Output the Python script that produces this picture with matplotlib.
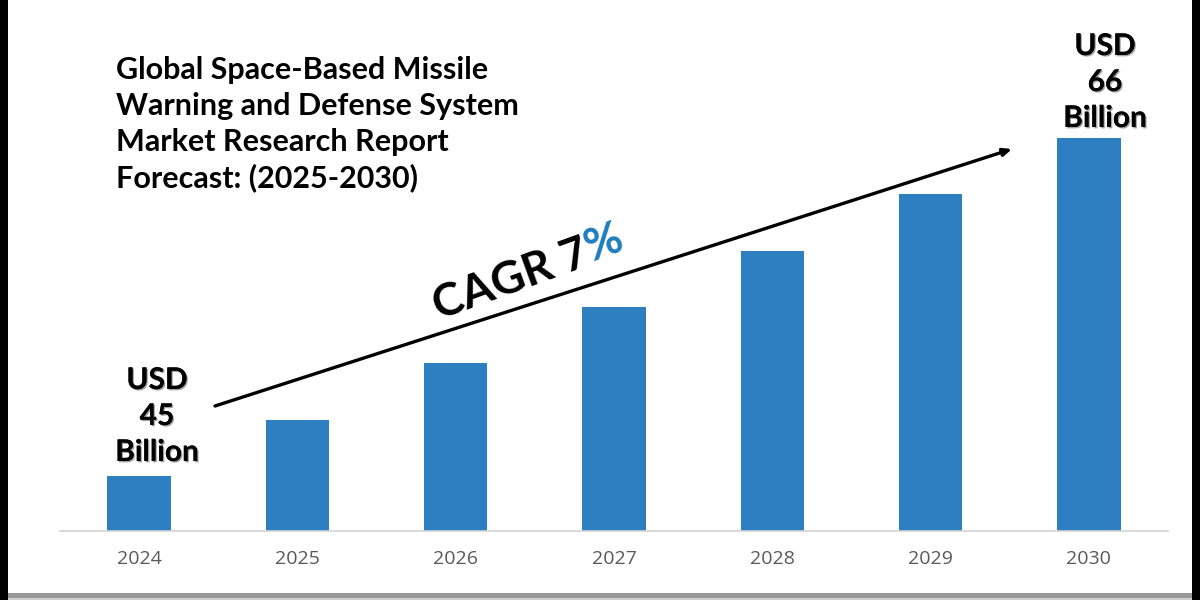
import matplotlib
matplotlib.use("Agg")
import matplotlib.patheffects as pe
import matplotlib.pyplot as plt
from matplotlib.patches import FancyArrowPatch, Rectangle

W, H = 1200, 600
years = ["2024", "2025", "2026", "2027", "2028", "2029", "2030"]
bar_heights = [55, 111, 168, 224, 280, 337, 393]  # no y axis in the source, so relative units
title_lines = ["Global Space-Based Missile", "Warning and Defense System",
               "Market Research Report", "Forecast: (2025-2030)"]
start_label = ["USD", "45", "Billion"]
end_label = ["USD", "66", "Billion"]

BLUE = "#2e7fc1"
FONT = "Lato"


def fx(px):
    return px / W


def fy(py):
    return 1 - py / H


shadow = [pe.withSimplePatchShadow(offset=(1.0, -1.0), shadow_rgbFace="#666666", alpha=0.6),
          pe.Normal()]

fig = plt.figure(figsize=(W / 100, H / 100), dpi=100, facecolor="white")
ax = fig.add_axes([fx(60), 1 - 531 / H, fx(1168 - 60), 531 / H])
ax.set_facecolor("none")
ax.bar(range(len(years)), bar_heights, width=0.4, color=BLUE)
ax.set_xlim(-0.5, 6.5)
ax.set_ylim(0, 531)
ax.set_xticks(range(len(years)), years)
ax.tick_params(axis="x", length=0, pad=14, labelsize=14, labelcolor="#595959")
ax.set_yticks([])
for lab in ax.get_xticklabels():
    lab.set_fontfamily("Open Sans")
for side in ["top", "left", "right"]:
    ax.spines[side].set_visible(False)
ax.spines["bottom"].set_color("#d4d4d4")
ax.spines["bottom"].set_linewidth(1.2)

for i, line in enumerate(title_lines):
    fig.text(fx(116), fy(70 + i * 36), line, family=FONT, weight="bold", fontsize=22,
             color="black", ha="left", va="center")

for i, line in enumerate(start_label):
    fig.text(fx(157), fy(380 + i * 36), line, family=FONT, weight="bold", fontsize=21.5,
             ha="center", va="center", path_effects=shadow)
for i, line in enumerate(end_label):
    fig.text(fx(1105), fy(46 + i * 36), line, family=FONT, weight="bold", fontsize=21.5,
             ha="center", va="center", path_effects=shadow)

# trend arrow
fig.add_artist(FancyArrowPatch(
    (fx(215), fy(406)), (fx(1012), fy(149)), transform=fig.transFigure,
    arrowstyle="-|>,head_length=5,head_width=2.2", color="black", lw=2.4,
    shrinkA=0, shrinkB=0))

fig.text(fx(511), fy(280), "CAGR 7", family=FONT, weight="bold", fontsize=33,
         rotation=20, rotation_mode="anchor", ha="center", va="center")
fig.text(fx(603), fy(243), "%", family=FONT, weight="bold", fontsize=33, color="#1f7cc0",
         rotation=20, rotation_mode="anchor", ha="center", va="center")

# picture frame: black side strips and the grey shadow at the bottom
frame = [(0, 0, 8, 600, "black"), (1192, 0, 8, 600, "black"),
         (8, 593, 1184, 5, "#9a9a9a"), (8, 598, 1184, 2, "#d0d0d0")]
for x0, y0, w, h, c in frame:
    fig.add_artist(Rectangle((fx(x0), fy(y0 + h)), fx(w), h / H, transform=fig.transFigure,
                             facecolor=c, edgecolor="none"))

fig.savefig("out.png", dpi=100)
